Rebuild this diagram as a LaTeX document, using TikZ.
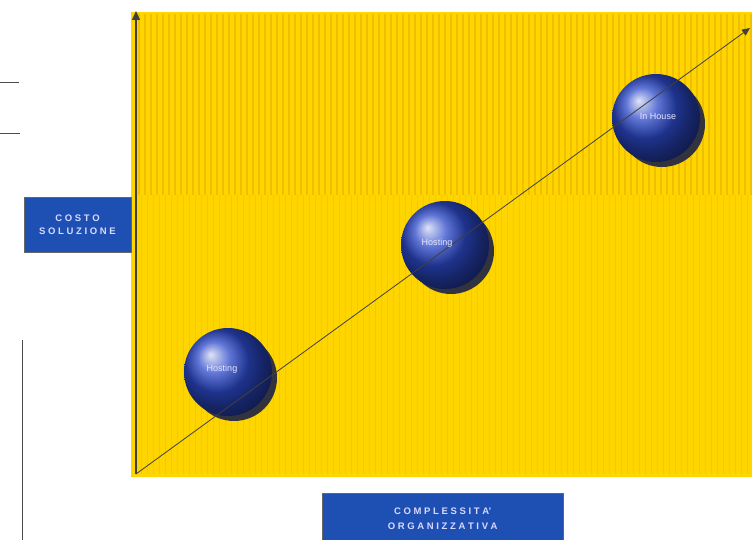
\documentclass[tikz,border=0pt]{standalone}
\usepackage{fontspec}
\setmainfont{Liberation Sans}
\usetikzlibrary{arrows.meta}
\definecolor{bgyellow}{HTML}{FFD500}
\definecolor{stripe}{HTML}{F2BE00}
\definecolor{boxblue}{HTML}{1E50B4}
\definecolor{sphereblue}{HTML}{2B48C8}
\definecolor{shadowgray}{HTML}{33333F}
\tikzset{
  labelbox/.style={fill=boxblue, draw=black!60, line width=0.4pt, text=white!85!blue, font=\fontsize{9.5}{13}\selectfont\bfseries, align=center, inner sep=0pt},
  sphere/.style={circle, shading=ball, ball color=sphereblue, minimum size=88pt, inner sep=0pt},
  sphereshadow/.style={circle, fill=shadowgray, minimum size=86pt, inner sep=0pt},
  spheretext/.style={text=white!90!blue, font=\fontsize{9}{10}\selectfont},
  axis/.style={draw=black!75, line width=1.2pt},
  diag/.style={draw=black!75, line width=0.8pt},
  thin line/.style={draw=black!70, line width=0.8pt}
}
\begin{document}
\begin{tikzpicture}[x=1pt,y=-1pt]
\useasboundingbox (0,0) rectangle (752,540);
% background
\fill[bgyellow] (131,12) rectangle (752,477);
\foreach \x in {138,144,...,750} {
  \fill[stripe] (\x,14) rectangle (\x+1.8,195);
}
\foreach \x in {141,147,...,750} {
  \fill[stripe!60!bgyellow] (\x,195) rectangle (\x+1.2,474);
}
% left decorative lines
\coordinate (h1a) at (0,82); \coordinate (h1b) at (19,82);
\coordinate (h2a) at (0,133); \coordinate (h2b) at (20,133);
\coordinate (v1a) at (22,340); \coordinate (v1b) at (22,540);
\draw[thin line] (h1a) -- (h1b);
\draw[thin line] (h2a) -- (h2b);
\draw[thin line] (v1a) -- (v1b);
% axes
\coordinate (origin) at (136,474);
\coordinate (ytop) at (136,11);
\coordinate (diagend) at (750,28);
\draw[axis, -{Triangle[length=9pt,width=8pt]}] (origin) -- (ytop);
% shadows
\node[sphereshadow] (s1sh) at (234,378) {};
\node[sphereshadow] (s2sh) at (451,251) {};
\node[sphereshadow] (s3sh) at (662,124) {};
% spheres
\node[sphere] (s1) at (228,372) {};
\node[sphere] (s2) at (445,245) {};
\node[sphere] (s3) at (656,118) {};
% diagonal
\draw[diag, -{Triangle[length=8pt,width=7pt]}] (origin) -- (diagend);
% sphere labels
\node[spheretext] (t1) at (222,369) {Hosting};
\node[spheretext] (t2) at (437,243) {Hosting};
\node[spheretext] (t3) at (658,116) {In House};
% axis label boxes
\node[labelbox, minimum width=107pt, minimum height=55pt] (costo) at (77.5,224.5) {C O S T O\\S O L U Z I O N E};
\node[labelbox, minimum width=241pt, minimum height=52pt, anchor=north west] (compl) at (322,493) {C O M P L E S S I T A'\\[2pt]O R G A N I Z Z A T I V A};
\end{tikzpicture}
\end{document}
